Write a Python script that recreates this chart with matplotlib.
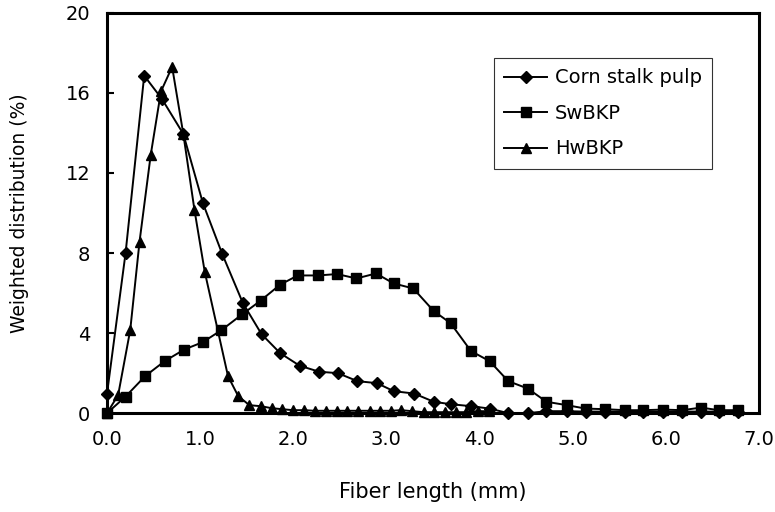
import matplotlib.pyplot as plt

# Corn stalk pulp (diamonds)
corn_x = [0.0, 0.20, 0.40, 0.59, 0.82, 1.03, 1.24, 1.46, 1.66, 1.86, 2.07, 2.28,
          2.48, 2.69, 2.90, 3.08, 3.30, 3.51, 3.69, 3.91, 4.11, 4.31, 4.52, 4.72,
          4.94, 5.14, 5.35, 5.56, 5.76, 5.97, 6.18, 6.38, 6.57, 6.78]
corn_y = [0.95, 8.0, 16.86, 15.7, 13.95, 10.5, 7.93, 5.5, 3.95, 3.0, 2.37, 2.07,
          2.0, 1.6, 1.5, 1.1, 0.98, 0.57, 0.45, 0.35, 0.23, 0.0, 0.0, 0.1,
          0.1, 0.08, 0.08, 0.08, 0.08, 0.08, 0.08, 0.08, 0.08, 0.08]

# SwBKP (squares)
sw_x = [0.0, 0.20, 0.41, 0.62, 0.83, 1.03, 1.23, 1.45, 1.65, 1.86, 2.05, 2.27,
        2.47, 2.68, 2.89, 3.08, 3.29, 3.51, 3.69, 3.91, 4.11, 4.31, 4.52, 4.72,
        4.94, 5.14, 5.35, 5.56, 5.76, 5.97, 6.18, 6.38, 6.57, 6.78]
sw_y = [0.0, 0.83, 1.85, 2.6, 3.18, 3.55, 4.15, 4.93, 5.62, 6.42, 6.88, 6.88,
        6.95, 6.73, 6.98, 6.48, 6.23, 5.1, 4.5, 3.1, 2.6, 1.6, 1.23, 0.57,
        0.4, 0.23, 0.2, 0.15, 0.15, 0.18, 0.15, 0.28, 0.15, 0.15]

# HwBKP (triangles)
hw_x = [0.0, 0.12, 0.25, 0.35, 0.47, 0.58, 0.70, 0.82, 0.94, 1.05, 1.30, 1.41,
        1.53, 1.65, 1.77, 1.88, 2.00, 2.12, 2.23, 2.35, 2.47, 2.58, 2.70, 2.82,
        2.93, 3.05, 3.16, 3.28, 3.40, 3.51, 3.63, 3.75, 3.86, 3.98, 4.10]
hw_y = [0.0, 0.9, 4.15, 8.57, 12.9, 16.07, 17.3, 13.95, 10.15, 7.07, 1.85, 0.85,
        0.4, 0.35, 0.25, 0.2, 0.15, 0.15, 0.12, 0.12, 0.12, 0.12, 0.12, 0.12,
        0.12, 0.12, 0.15, 0.1, 0.05, 0.05, 0.05, 0.05, 0.05, 0.1, 0.1]

x_ticks = [0, 1, 2, 3, 4, 5, 6, 7]
y_ticks = [0, 4, 8, 12, 16, 20]

plt.rcParams['font.family'] = ['DejaVu Sans']

fig = plt.figure(figsize=(7.75, 5.12), dpi=100)
ax = fig.add_axes([0.138, 0.193, 0.841, 0.782])

ax.plot(corn_x, corn_y, color='black', lw=1.4, marker='D', ms=6.5,
        label='Corn stalk pulp', clip_on=False, zorder=3)
ax.plot(sw_x, sw_y, color='black', lw=1.4, marker='s', ms=7,
        label='SwBKP', clip_on=False, zorder=3)
ax.plot(hw_x, hw_y, color='black', lw=1.4, marker='^', ms=7,
        label='HwBKP', clip_on=False, zorder=3)

ax.set_xlim(0, 7)
ax.set_ylim(0, 20)
ax.set_xticks(x_ticks)
ax.set_xticklabels(['%.1f' % v for v in x_ticks])
ax.set_yticks(y_ticks)
ax.tick_params(axis='y', direction='in', length=5, width=1.5, labelsize=14, pad=12)
ax.tick_params(axis='x', direction='in', length=0, labelsize=14, pad=12)
for s in ax.spines.values():
    s.set_linewidth(2.2)

ax.set_xlabel('Fiber length (mm)', fontsize=15, labelpad=24)
ax.set_ylabel('Weighted distribution (%)', fontsize=13.5, labelpad=26)

leg = ax.legend(loc='upper right', bbox_to_anchor=(0.929, 0.888), fontsize=14,
                frameon=True, fancybox=False, handlelength=2.2,
                handletextpad=0.4, labelspacing=0.85, borderpad=0.55,
                borderaxespad=0)
leg.get_frame().set_edgecolor('black')
leg.get_frame().set_linewidth(0.8)

fig.savefig('out.png', dpi=100)
